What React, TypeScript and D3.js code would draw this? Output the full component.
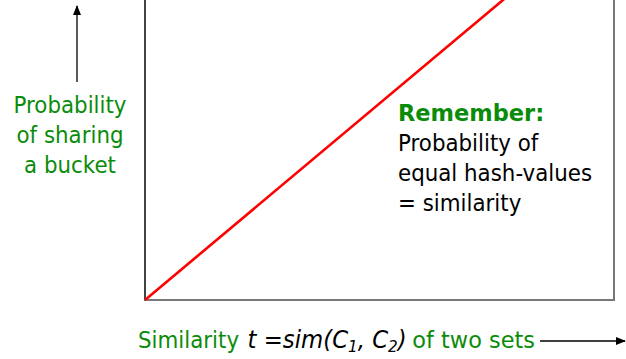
import React from "react";
import * as d3 from "d3";

const linePoints: [number, number][] = [[0, 0], [1, 1]];
const yLabelLines = ["Probability", "of sharing", "a bucket"];
const noteTitle = "Remember:";
const noteLines = ["Probability of", "equal hash-values", "= similarity"];

const W = 626, H = 359;
const left = 145, right = 614, bottom = 300;
const green = "#0a8c0a";
const font = "'DejaVu Sans', Verdana, sans-serif";
const fs = 22.5;
const sx = 0.95;

function T(props: { x: number; y: number; anchor?: string; children: React.ReactNode; fill?: string; bold?: boolean; scale?: number }) {
  const s = props.scale ?? sx;
  return (
    <g transform={`translate(${props.x},${props.y}) scale(${s},1)`}>
      <text x={0} y={0} textAnchor={props.anchor || "start"} fontSize={fs} fill={props.fill || "#000"} fontWeight={props.bold ? "bold" : "normal"}>
        {props.children}
      </text>
    </g>
  );
}

export default function App() {
  const x = d3.scaleLinear().domain([0, 1]).range([left, right]);
  const y = d3.scaleLinear().domain([0, 1]).range([bottom, bottom - (right - left) * (300 / 358)]);
  const line = d3.line<[number, number]>().x(d => x(d[0])).y(d => y(d[1]));
  return (
    <svg width={W} height={H} style={{ position: "absolute", left: 0, top: 0 }} fontFamily={font}>
      <defs>
        <marker id="ah" markerWidth="10" markerHeight="10" refX="9" refY="5" orient="auto" markerUnits="userSpaceOnUse">
          <path d="M0,1 L10,5 L0,9 Z" fill="#000" />
        </marker>
      </defs>
      <rect x={left} y={-200} width={right - left} height={bottom + 200} fill="none" stroke="#777" strokeWidth={2} />
      <line x1={left} x2={left} y1={-5} y2={bottom} stroke="#222" strokeWidth={1.2} />
      <path d={line(linePoints) || ""} stroke="#ff0000" strokeWidth={2.6} fill="none" />
      <line x1={77} x2={77} y1={82} y2={6} stroke="#000" strokeWidth={1.3} markerEnd="url(#ah)" />
      {yLabelLines.map((t, i) => (
        <T key={i} x={70} y={113 + i * 30} anchor="middle" fill={green}>{t}</T>
      ))}
      <T x={398} y={121} fill={green} bold scale={1}>{noteTitle}</T>
      {noteLines.map((t, i) => (
        <T key={i} x={398} y={151 + i * 30}>{t}</T>
      ))}
      <T x={138} y={348} fill={green}>
        <tspan>Similarity</tspan>
        <tspan fill="#000" fontStyle="italic" fontSize={24} dx={9}>t =sim(C</tspan>
        <tspan fill="#000" fontStyle="italic" fontSize={16} dy={4}>1</tspan>
        <tspan fill="#000" fontStyle="italic" fontSize={24} dy={-4}>, C</tspan>
        <tspan fill="#000" fontStyle="italic" fontSize={16} dy={4}>2</tspan>
        <tspan fill="#000" fontStyle="italic" fontSize={24} dy={-4}>)</tspan>
        <tspan dx={6} fontSize={23.6}>of two sets</tspan>
      </T>
      <line x1={540} x2={625} y1={341} y2={341} stroke="#000" strokeWidth={1.3} markerEnd="url(#ah)" />
    </svg>
  );
}
